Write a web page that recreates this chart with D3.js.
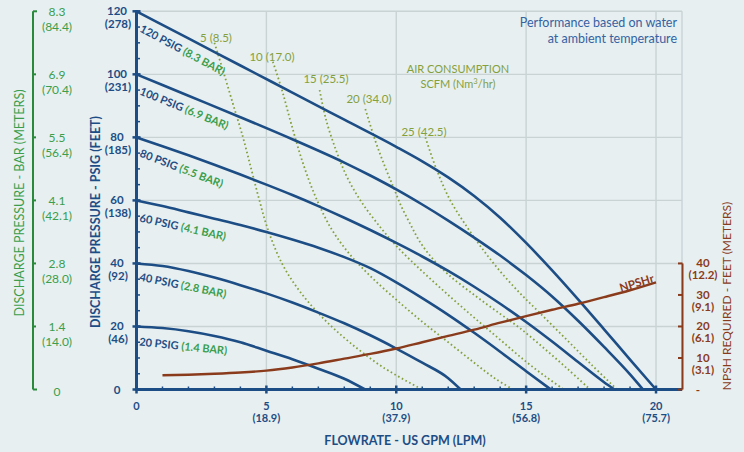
<!DOCTYPE html>
<html><head><meta charset="utf-8">
<script src="https://cdn.jsdelivr.net/npm/d3@7"></script>
<style>
html,body{margin:0;padding:0;background:#e7eff0;}
svg{display:block;font-family:Lato,"Open Sans",sans-serif;}
</style></head><body>
<svg id="chart" width="744" height="452"></svg>
<script>
// ---------- data ----------
const psigTicks = [0, 20, 40, 60, 80, 100, 120];
const feetLabels = ["", "(46)", "(92)", "(138)", "(185)", "(231)", "(278)"];
const barLabels = ["0", "1.4", "2.8", "4.1", "5.5", "6.9", "8.3"];
const meterLabels = ["", "(14.0)", "(28.0)", "(42.1)", "(56.4)", "(70.4)", "(84.4)"];
const gpmTicks = [0, 5, 10, 15, 20];
const lpmLabels = ["", "(18.9)", "(37.9)", "(56.8)", "(75.7)"];
const npshTicks = [0, 10, 20, 30, 40];
const npshFeetLabels = ["-", "10", "20", "30", "40"];
const npshMeterLabels = ["", "(3.1)", "(6.1)", "(9.1)", "(12.2)"];

const pumpNames = ["120 PSIG", "100 PSIG", "80 PSIG", "60 PSIG", "40 PSIG", "20 PSIG"];
const pumpBar = ["(8.3 BAR)", "(6.9 BAR)", "(5.5 BAR)", "(4.1 BAR)", "(2.8 BAR)", "(1.4 BAR)"];
const curve120 = [[0,120],[2,111.4],[4,102.8],[6,94.2],[8,85.6],[10,77],[11,72.4],[12,67.3],[13,61.4],[14,54.5],[15,46.5],[16,37.8],[17,28.6],[18,19.1],[19,9.5],[20,0]];
const curve100 = [[0,100],[2,93.2],[4,86.4],[6,79.4],[8,72],[9,67.9],[10,63.5],[11,58.7],[12,53.6],[13,48.2],[14,42.5],[15,36.3],[16,29.5],[17,21.8],[18,13.5],[19,4.8],[19.5,0]];
const curve80 = [[0,80],[1,77.2],[2,74.3],[3,71.3],[4,68.2],[5,65],[6,61.7],[7,58.2],[8,54.5],[9,50.6],[10,46.5],[11,42.2],[12,37.6],[13,32.6],[14,27.2],[15,21.4],[16,15.2],[17,8.7],[18,2.3],[18.4,0]];
const curve60 = [[0,60],[1,58.2],[2,56.2],[3,54.2],[4,52.2],[5,50],[6,47.6],[7,45],[8,42],[9,38.5],[10,34],[11,29],[12,23.7],[13,18],[14,12],[15,5.8],[15.95,0]];
const curve40 = [[0,40],[1,39.2],[2,37.6],[3,35.5],[4,33.1],[5,30.5],[6,27.6],[7,24.4],[8,21],[9,17.2],[10,13],[11,8.5],[12,3.6],[12.48,0]];
const curve20 = [[0,20],[1,19.5],[2,18.5],[3,17],[4,15],[5,12.3],[6,9.6],[7,6.6],[8,3.4],[8.8,0]];

const airLabels = ["5 (8.5)", "10 (17.0)", "15 (25.5)", "20 (34.0)", "25 (42.5)"];
const air5 = [[3.0,110],[3.3,102],[3.7,91],[4.1,80],[4.4,70.5],[4.7,61],[5.05,51],[5.6,40],[6.3,31],[7.2,22.5],[8.2,15],[9.5,7],[11.0,0]];
const air10 = [[5.25,104],[5.6,95],[5.95,84.5],[6.4,72],[6.9,61],[7.5,51],[8.2,43],[9,36],[10,28.5],[11,21.5],[12,15],[13,8.5],[13.8,3.5],[14.5,0]];
const air15 = [[7.05,95],[7.3,85.5],[7.7,75.5],[8.1,67.5],[8.62,60],[9.26,52.8],[10.03,45.3],[11,37.5],[12,30],[13,22.8],[14,15.8],[15,8.8],[15.8,3.8],[16.45,0]];
const air20 = [[8.81,89],[9.19,79],[9.55,71],[9.9,64],[10.2,58],[10.54,52.5],[10.9,47],[11.4,41.5],[12,36.5],[13,30],[14,24],[14.77,19.4],[15.7,13],[16.6,6.5],[17.46,0]];
const air25 = [[11.12,80],[11.56,69.6],[12.08,60],[12.72,51.6],[13.3,44.8],[14,37.5],[14.77,30.5],[15.5,24.5],[16.5,16.3],[17.5,8],[18.5,0]];

const npshr = [[1,4.5],[2,4.7],[3,5.0],[4,5.4],[5,6.0],[6,7.0],[7,8.3],[8,9.8],[9,11.3],[10,13.0],[11,15.0],[12,17.0],[13,19.0],[14,21.2],[15,23.3],[16,25.3],[17,27.2],[18,29.3],[19,31.5],[20,34.0]];

// ---------- layout ----------
const svg = d3.select("#chart");
const X0 = 136.5, X1 = 682, Y0 = 389.5, Y1 = 11.3;
const x = d3.scaleLinear().domain([0, 21]).range([X0, X1]);
const y = d3.scaleLinear().domain([0, 120]).range([Y0, Y1]);
const yN = d3.scaleLinear().domain([0, 40]).range([Y0, y(40)]);

const BLUE = "#1d4d85", GREEN_AX = "#2a8a3c", GREEN_TX = "#3a9e4c", OLIVE = "#84a03c", BROWN = "#8a3b1c", GRID = "#c9d3d4";

// grid
const g = svg.append("g");
g.selectAll(".hg").data(psigTicks.filter(d => d > 0)).join("line")
  .attr("x1", X0).attr("x2", X1).attr("y1", d => y(d)).attr("y2", d => y(d))
  .attr("stroke", GRID).attr("stroke-width", 1.4);
g.selectAll(".vg").data([5, 10, 15, 20, 21]).join("line")
  .attr("x1", d => x(d)).attr("x2", d => x(d)).attr("y1", Y1).attr("y2", Y0)
  .attr("stroke", GRID).attr("stroke-width", 1.4);

// text annotations
svg.append("text").attr("x", 677).attr("y", 27).attr("text-anchor", "end")
  .attr("font-size", 12.5).attr("fill", "#3462a3").text("Performance based on water");
svg.append("text").attr("x", 677).attr("y", 43).attr("text-anchor", "end")
  .attr("font-size", 12.5).attr("fill", "#3462a3").text("at ambient temperature");
svg.append("text").attr("x", 458).attr("y", 73).attr("text-anchor", "middle")
  .attr("font-size", 11).attr("fill", OLIVE).text("AIR CONSUMPTION");
const sc = svg.append("text").attr("x", 458).attr("y", 88).attr("text-anchor", "middle")
  .attr("font-size", 11).attr("fill", OLIVE);
sc.append("tspan").text("SCFM (Nm");
sc.append("tspan").attr("font-size", 7.5).attr("dy", -4).text("3");
sc.append("tspan").attr("dy", 4).text("/hr)");

// air consumption dotted curves
const lineAir = d3.line().x(d => x(d[0])).y(d => y(d[1])).curve(d3.curveCatmullRom.alpha(0.5));
const airSets = [air5, air10, air15, air20, air25];
svg.append("g").selectAll("path").data(airSets).join("path")
  .attr("d", lineAir).attr("fill", "none").attr("stroke", OLIVE)
  .attr("stroke-width", 1.8).attr("stroke-dasharray", "1.6,2.6");
const airLabPos = [[216, 42], [272, 61], [326, 83], [369, 103], [424, 136]];
svg.append("g").selectAll("text").data(airLabels).join("text")
  .attr("x", (d, i) => airLabPos[i][0]).attr("y", (d, i) => airLabPos[i][1])
  .attr("text-anchor", "middle").attr("font-size", 11.5).attr("fill", OLIVE).text(d => d);

// pump curves
const lineP = d3.line().x(d => x(d[0])).y(d => y(d[1])).curve(d3.curveMonotoneX);
const pumpSets = [curve120, curve100, curve80, curve60, curve40, curve20];
svg.append("g").selectAll("path").data(pumpSets).join("path")
  .attr("d", lineP).attr("fill", "none").attr("stroke", BLUE).attr("stroke-width", 2.6);

// NPSHr
const lineN = d3.line().x(d => x(d[0])).y(d => yN(d[1])).curve(d3.curveMonotoneX);
svg.append("path").datum(npshr).attr("d", lineN).attr("fill", "none")
  .attr("stroke", BROWN).attr("stroke-width", 2.4);
svg.append("text").attr("transform", "translate(621,292) rotate(-17)")
  .attr("font-size", 11.5).attr("font-weight", "bold").attr("fill", BROWN).text("NPSHr");

// pump labels
const pumpLab = [[120, 20, 28], [100, 20, 22], [80, 19, 21], [60, 21, 12.5], [40, 17, 11.5], [20, 19, 6]];
pumpLab.forEach((p, i) => {
  const t = svg.append("text")
    .attr("transform", `translate(${X0 + 2.5},${y(p[0]) + p[1]}) rotate(${p[2]})`)
    .attr("font-size", 11).attr("font-weight", "bold");
  t.append("tspan").attr("fill", BLUE).text(pumpNames[i] + " ");
  t.append("tspan").attr("fill", GREEN_TX).text(pumpBar[i]);
});

// ---------- blue left axis ----------
const ax = svg.append("g");
ax.append("line").attr("x1", X0).attr("x2", X0).attr("y1", Y1 - 1).attr("y2", Y0 + 1)
  .attr("stroke", BLUE).attr("stroke-width", 3);
ax.selectAll(".mt").data(d3.range(0, 121, 5).filter(d => d % 20 !== 0)).join("line")
  .attr("x1", X0).attr("x2", X0 + 3.5).attr("y1", d => y(d)).attr("y2", d => y(d))
  .attr("stroke", BLUE).attr("stroke-width", 1.5);
ax.selectAll(".Mt").data(psigTicks).join("line")
  .attr("x1", X0 - 4).attr("x2", X0 + 4).attr("y1", d => y(d)).attr("y2", d => y(d))
  .attr("stroke", BLUE).attr("stroke-width", 2.5);
ax.selectAll(".l1").data(psigTicks).join("text")
  .attr("x", 117).attr("y", d => y(d) + 4).attr("text-anchor", "middle")
  .attr("font-size", 11.5).attr("font-weight", "bold").attr("fill", BLUE).text(d => d);
ax.selectAll(".l2").data(psigTicks).join("text")
  .attr("x", 118).attr("y", d => y(d) + 16.5).attr("text-anchor", "middle")
  .attr("font-size", 11.5).attr("font-weight", "bold").attr("fill", BLUE).text((d, i) => feetLabels[i]);
svg.append("text").attr("transform", `translate(100,${222}) rotate(-90)`).attr("text-anchor", "middle")
  .attr("font-size", 12.5).attr("font-weight", "bold").attr("fill", BLUE).text("DISCHARGE PRESSURE - PSIG (FEET)");

// ---------- green left axis ----------
const GX = 33;
const ga = svg.append("g");
ga.append("line").attr("x1", GX).attr("x2", GX).attr("y1", y(120)).attr("y2", y(0))
  .attr("stroke", GREEN_AX).attr("stroke-width", 2);
ga.selectAll("line.t").data(psigTicks).join("line").attr("class", "t")
  .attr("x1", GX).attr("x2", d => (d === 0 || d === 120) ? GX + 4 : GX + 3)
  .attr("y1", d => y(d)).attr("y2", d => y(d)).attr("stroke", GREEN_AX).attr("stroke-width", 2);
ga.selectAll(".b1").data(psigTicks).join("text")
  .attr("x", 57).attr("y", d => y(d) + (d === 0 ? 6 : 5)).attr("text-anchor", "middle")
  .attr("font-size", 12).attr("fill", GREEN_TX).text((d, i) => barLabels[i]);
ga.selectAll(".b2").data(psigTicks).join("text")
  .attr("x", 57).attr("y", d => y(d) + 19.5).attr("text-anchor", "middle")
  .attr("font-size", 12).attr("fill", GREEN_TX).text((d, i) => meterLabels[i]);
svg.append("text").attr("transform", `translate(24,${203}) rotate(-90)`).attr("text-anchor", "middle")
  .attr("font-size", 12.5).attr("fill", GREEN_TX).text("DISCHARGE PRESSURE - BAR (METERS)");

// ---------- bottom axis ----------
const bx = svg.append("g");
bx.append("line").attr("x1", X0 - 1).attr("x2", X1).attr("y1", Y0).attr("y2", Y0)
  .attr("stroke", BLUE).attr("stroke-width", 3);
bx.selectAll(".mx").data(d3.range(0, 21, 1).filter(d => d % 5 !== 0)).join("line")
  .attr("x1", d => x(d)).attr("x2", d => x(d)).attr("y1", Y0 - 3).attr("y2", Y0 + 1)
  .attr("stroke", BLUE).attr("stroke-width", 1.5);
bx.selectAll(".Mx").data(gpmTicks).join("line")
  .attr("x1", d => x(d)).attr("x2", d => x(d)).attr("y1", Y0 - 4).attr("y2", Y0 + 4)
  .attr("stroke", BLUE).attr("stroke-width", 2.5);
bx.selectAll(".x1").data(gpmTicks).join("text")
  .attr("x", d => x(d)).attr("y", 410).attr("text-anchor", "middle")
  .attr("font-size", 11).attr("font-weight", "bold").attr("fill", BLUE).text(d => d);
bx.selectAll(".x2").data(gpmTicks).join("text")
  .attr("x", d => x(d)).attr("y", 422).attr("text-anchor", "middle")
  .attr("font-size", 11).attr("font-weight", "bold").attr("fill", BLUE).text((d, i) => lpmLabels[i]);
svg.append("text").attr("x", 405).attr("y", 445).attr("text-anchor", "middle")
  .attr("font-size", 12.5).attr("font-weight", "bold").attr("fill", BLUE).text("FLOWRATE - US GPM (LPM)");

// ---------- right NPSH axis ----------
const ra = svg.append("g");
ra.append("line").attr("x1", X1 + 0.5).attr("x2", X1 + 0.5).attr("y1", yN(40)).attr("y2", yN(0))
  .attr("stroke", BROWN).attr("stroke-width", 2);
ra.selectAll("line.t").data(npshTicks).join("line").attr("class", "t")
  .attr("x1", X1 - 4).attr("x2", X1 + 0.5).attr("y1", d => yN(d)).attr("y2", d => yN(d))
  .attr("stroke", BROWN).attr("stroke-width", 2);
ra.selectAll(".n1").data(npshTicks).join("text")
  .attr("x", (d) => d === 0 ? 698 : 703).attr("y", d => yN(d) + 4).attr("text-anchor", "middle")
  .attr("font-size", 11.5).attr("font-weight", "bold").attr("fill", BROWN).text((d, i) => npshFeetLabels[i]);
ra.selectAll(".n2").data(npshTicks).join("text")
  .attr("x", 703).attr("y", d => yN(d) + 16).attr("text-anchor", "middle")
  .attr("font-size", 11.5).attr("font-weight", "bold").attr("fill", BROWN).text((d, i) => npshMeterLabels[i]);
svg.append("text").attr("transform", `translate(731,${296}) rotate(-90)`).attr("text-anchor", "middle")
  .attr("font-size", 12).attr("fill", BROWN).text("NPSH REQUIRED - FEET (METERS)");
</script>
</body></html>
